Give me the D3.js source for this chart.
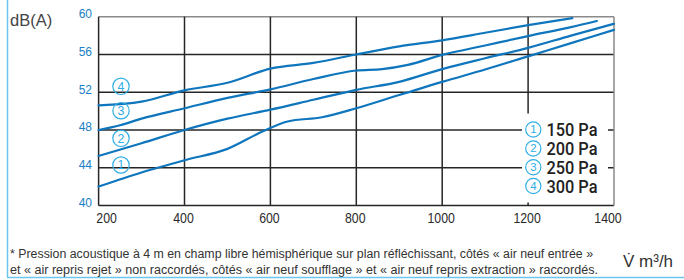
<!DOCTYPE html>
<html><head><meta charset="utf-8">
<script src="https://cdn.jsdelivr.net/npm/d3@7"></script>
<style>
html,body{margin:0;padding:0;background:#fff;}
svg{display:block;}
.reg{font-family:"Liberation Sans",Arial,sans-serif;}
.rob{font-family:Roboto,"Liberation Sans",Arial,sans-serif;}
</style></head>
<body>
<svg id="chart" width="684" height="280"></svg>
<script>
// ---- data ----
const xTicks = [200, 400, 600, 800, 1000, 1200, 1400];
const yTicks = [40, 44, 48, 52, 56, 60];
const seriesNames = ["150 Pa", "200 Pa", "250 Pa", "300 Pa"];
const seriesNums = ["1", "2", "3", "4"];
const s150 = [[200,42.0],[300,43.5],[400,44.8],[500,46.0],[580,47.8],[640,48.9],[720,49.35],[800,50.3],[900,51.7],[1000,53.1],[1100,54.4],[1200,55.8],[1300,57.2],[1400,58.6]];
const s200 = [[200,45.25],[300,46.6],[400,48.0],[500,49.2],[600,50.15],[700,51.2],[800,52.25],[900,53.1],[1000,54.45],[1100,55.6],[1200,56.7],[1300,58.0],[1400,59.25]];
const s250 = [[200,48.0],[250,48.5],[300,49.2],[400,50.3],[500,51.4],[600,52.3],[700,53.4],[800,54.3],[860,54.45],[920,54.9],[1000,55.95],[1100,56.95],[1200,57.95],[1300,58.9],[1360,59.55]];
const s300 = [[200,50.6],[300,51.0],[400,52.2],[500,53.0],[600,54.5],[700,55.1],[800,56.0],[900,56.85],[1000,57.5],[1100,58.3],[1200,59.1],[1303,59.85]];
const series = [s150, s200, s250, s300];
const footLines = [
  "* Pression acoustique \u00e0 4 m en champ libre h\u00e9misph\u00e9rique sur plan r\u00e9fl\u00e9chissant, c\u00f4t\u00e9s \u00ab air neuf entr\u00e9e \u00bb",
  "et \u00ab air repris rejet \u00bb non raccord\u00e9s, c\u00f4t\u00e9s \u00ab air neuf soufflage \u00bb et \u00ab air neuf repris extraction \u00bb raccord\u00e9s."
];

// ---- drawing ----
const svg = d3.select("#chart");
const x = d3.scaleLinear().domain([200, 1400]).range([98.6, 614]);
const y = d3.scaleLinear().domain([40, 60]).range([205.5, 16.7]);
const lineBlue = "#0f76bd", lightBlue = "#2eaee4", frameBlue = "#6cc6ee";

// frame (L shape)
svg.append("line").attr("x1",7.5).attr("x2",7.5).attr("y1",0).attr("y2",277.5)
  .attr("stroke",frameBlue).attr("stroke-width",1.5);
svg.append("line").attr("x1",7).attr("x2",684).attr("y1",277.5).attr("y2",277.5)
  .attr("stroke",frameBlue).attr("stroke-width",1.5);

const g = svg.append("g");
yTicks.forEach(v => {
  const top = v === 60;
  g.append("line").attr("x1", x(200)).attr("x2", x(1400)).attr("y1", y(v)).attr("y2", y(v))
    .attr("stroke", top ? "#8a8a8a" : "#262626").attr("stroke-width", 1.5);
});
xTicks.forEach(v => {
  const right = v === 1400;
  g.append("line").attr("x1", x(v)).attr("x2", x(v)).attr("y1", y(60)).attr("y2", y(40))
    .attr("stroke", right ? "#8a8a8a" : "#262626").attr("stroke-width", 1.5);
});

// y labels
g.selectAll(".yl").data(yTicks).enter().append("text").attr("class","reg")
  .attr("x", 92).attr("y", d => y(d) + 1.5)
  .attr("text-anchor","end").attr("font-size", 12).attr("fill", "#1a7fc4")
  .text(d => d);
// x labels
g.selectAll(".xl").data(xTicks).enter().append("text").attr("class","reg")
  .attr("x", d => x(d) + (d === 200 ? 8 : d === 1400 ? -6 : -1))
  .attr("y", 222.5).attr("text-anchor","middle").attr("font-size", 14.5).attr("fill", "#2a2a2a")
  .attr("textLength", d => String(d).length * 6.85).attr("lengthAdjust","spacingAndGlyphs")
  .text(d => d);

// curves
const line = d3.line().x(d => x(d[0])).y(d => y(d[1])).curve(d3.curveMonotoneX);
svg.selectAll(".curve").data(series).enter().append("path")
  .attr("d", line).attr("fill","none").attr("stroke", lineBlue).attr("stroke-width", 2.2)
  .attr("stroke-linecap","round");

// circled number marker
function circled(sel, cx, cy, r, num) {
  sel.append("circle").attr("cx", cx).attr("cy", cy).attr("r", r)
    .attr("fill", "none").attr("stroke", lightBlue).attr("stroke-width", 1.2);
  sel.append("text").attr("class","reg").attr("x", cx).attr("y", cy + r * 0.52)
    .attr("text-anchor","middle").attr("font-size", r * 1.5).attr("fill", lightBlue).text(num);
}
const markY = [165, 138.3, 110.7, 86.3];
seriesNums.forEach((m, i) => circled(svg, 121, markY[i], 8.2, m));

// legend
const lg = svg.append("g");
lg.append("rect").attr("x", 522).attr("y", 113.5).attr("width", 86).attr("height", 89).attr("fill", "#fff");
const legY = [129.5, 148.5, 167.3, 186];
seriesNames.forEach((n, i) => {
  circled(lg, 533.3, legY[i], 7.6, seriesNums[i]);
  lg.append("text").attr("class","rob").attr("x", 546.5).attr("y", legY[i] + 6.7)
    .attr("font-size", 17.5).attr("fill", "#222").attr("font-weight", 500)
    .attr("textLength", 51).attr("lengthAdjust","spacingAndGlyphs").text(n);
});

// axis titles
svg.append("text").attr("class","reg").attr("x", 10).attr("y", 26)
  .attr("font-size", 16.5).attr("fill", "#444").text("dB(A)");
svg.append("text").attr("class","reg").attr("x", 623).attr("y", 266.5)
  .attr("font-size", 17).attr("fill", "#333").text("V\u0307 m\u00b3/h");

// footnote
footLines.forEach((t, i) => {
  svg.append("text").attr("class","reg").attr("x", 10).attr("y", [257.5, 274][i])
    .attr("font-size", 12.3).attr("fill", "#333")
    .attr("textLength", [583, 588][i]).attr("lengthAdjust","spacingAndGlyphs")
    .text(t);
});
</script>
</body></html>
